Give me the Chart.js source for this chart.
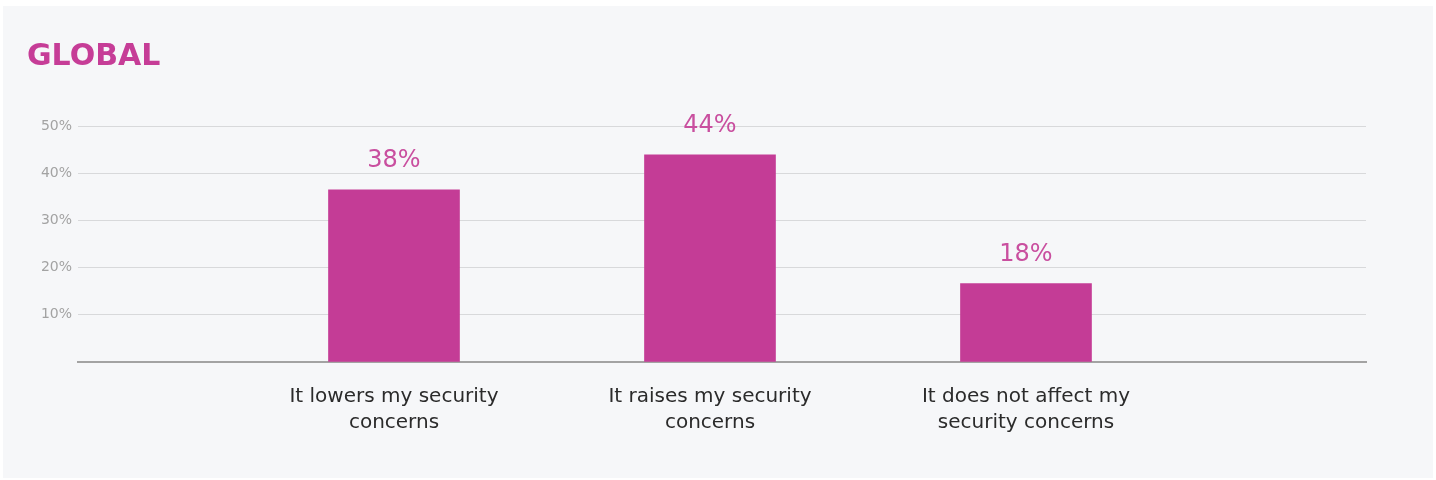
<!DOCTYPE html>
<html>
<head>
<meta charset="utf-8">
<script src="https://cdn.jsdelivr.net/npm/chart.js@4"></script>
<style>
  html, body { margin: 0; padding: 0; background: #ffffff; }
  #wrap { position: relative; width: 1436px; height: 480px; }
</style>
</head>
<body>
<div id="wrap"><canvas id="c" width="1436" height="480"></canvas></div>
<script>
const title = "GLOBAL";
const categories = [
  ["It lowers my security", "concerns"],
  ["It raises my security", "concerns"],
  ["It does not affect my", "security concerns"]
];
const positions = [1, 2, 3];
const barValues = [36.5, 43.9, 16.6];
const barLabels = ["38%", "44%", "18%"];
const yTicks = [10, 20, 30, 40, 50];

const FONT = "'DejaVu Sans', sans-serif";
const MAGENTA = "#c43c96";

const panelPlugin = {
  id: 'panel',
  beforeDraw(chart) {
    const ctx = chart.ctx;
    ctx.save();
    ctx.fillStyle = '#f6f7f9';
    ctx.fillRect(3, 6, 1430, 472);
    ctx.fillStyle = '#c63d97';
    ctx.font = "bold 30px " + FONT;
    ctx.textBaseline = 'alphabetic';
    ctx.textAlign = 'left';
    ctx.fillText(title, 27, 65);
    ctx.restore();
  }
};

const labelPlugin = {
  id: 'barLabels',
  afterDatasetsDraw(chart) {
    const ctx = chart.ctx;
    const meta = chart.getDatasetMeta(0);
    ctx.save();
    ctx.fillStyle = '#c94f9f';
    ctx.font = "24px " + FONT;
    ctx.textAlign = 'center';
    ctx.textBaseline = 'middle';
    meta.data.forEach((bar, i) => {
      ctx.fillText(barLabels[i], bar.x, bar.y - 29);
    });
    ctx.restore();
  }
};

new Chart(document.getElementById('c'), {
  type: 'bar',
  data: {
    datasets: [{
      data: positions.map((p, i) => ({ x: p, y: barValues[i] })),
      backgroundColor: MAGENTA,
      barThickness: 131,
      borderWidth: 0
    }]
  },
  options: {
    responsive: false,
    animation: false,
    events: [],
    layout: { padding: { top: 126, right: 70, left: 0, bottom: 0 } },
    plugins: { legend: { display: false }, tooltip: { enabled: false } },
    scales: {
      x: {
        type: 'linear',
        offset: false,
        min: 0,
        max: 4.076,
        afterBuildTicks(scale) { scale.ticks = positions.map(v => ({ value: v })); },
        afterFit(scale) { scale.height = 118; },
        grid: { display: false, drawTicks: false, offset: false },
        border: { display: true, color: '#a3a3a3', width: 2 },
        ticks: {
          padding: 22,
          color: '#2b2b2b',
          font: { family: FONT, size: 20, lineHeight: 1.3 },
          maxRotation: 0,
          autoSkip: false,
          callback(v) { const i = positions.indexOf(v); return i >= 0 ? categories[i] : ''; }
        }
      },
      y: {
        min: 0,
        max: 50,
        afterBuildTicks(scale) { scale.ticks = [0].concat(yTicks).map(v => ({ value: v })); },
        afterFit(scale) { scale.width = 78; },
        border: { display: false },
        grid: {
          drawTicks: false,
          color(ctx) { return ctx.tick && ctx.tick.value === 0 ? 'rgba(0,0,0,0)' : '#d8d9db'; },
          lineWidth: 1
        },
        ticks: {
          padding: 6,
          color: '#a3a3a3',
          font: { family: FONT, size: 14 },
          callback(v) { return v === 0 ? '' : v + '%'; }
        }
      }
    }
  },
  plugins: [panelPlugin, labelPlugin]
});
</script>
</body>
</html>
